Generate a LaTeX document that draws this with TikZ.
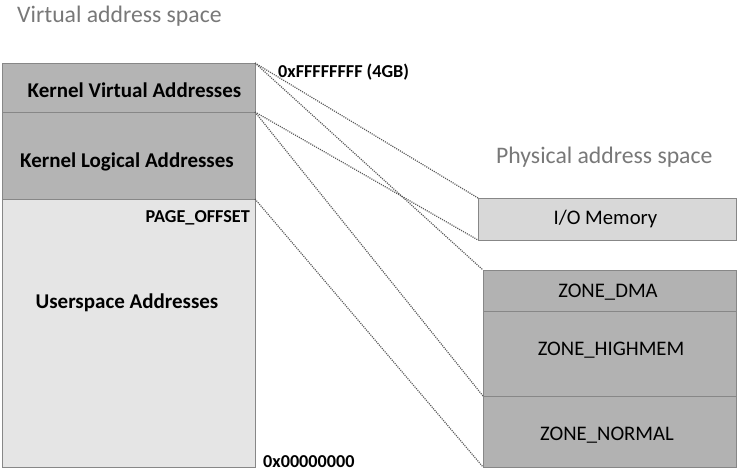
\documentclass[tikz,border=0pt]{standalone}
\usepackage{fontspec}
\setmainfont{Carlito}
\usetikzlibrary{shadows}
\definecolor{kern}{RGB}{180,180,180}
\definecolor{user}{RGB}{229,229,229}
\definecolor{iomem}{RGB}{216,216,216}
\definecolor{zone}{RGB}{178,178,178}
\definecolor{edge}{RGB}{135,135,135}
\definecolor{titlegray}{RGB}{120,120,120}
\definecolor{linegray}{RGB}{90,90,90}
\tikzset{
  box/.style={draw=edge, line width=1pt, inner sep=0pt, outer sep=0pt,
    drop shadow={shadow xshift=1.2pt, shadow yshift=-1.2pt, opacity=0.25}},
  title/.style={anchor=base west, inner sep=0pt, text=titlegray, font=\fontsize{23.7}{26}\selectfont},
  blab/.style={anchor=base, inner sep=0pt, font=\bfseries\fontsize{21}{24}\selectfont},
  addr/.style={anchor=base west, inner sep=0pt, font=\bfseries\fontsize{18.2}{21}\selectfont},
  rlab/.style={anchor=base, inner sep=0pt, font=\fontsize{20.7}{24}\selectfont},
  map/.style={draw=linegray, line width=1.2pt, dash pattern=on 1.1pt off 1.1pt}
}
\begin{document}
\begin{tikzpicture}[x=1pt,y=-1pt]
\useasboundingbox (0,0) rectangle (741,475);
% virtual side
\node[box, fill=user, minimum width=253pt, minimum height=268pt] (us) at (128.5,333) {};
\node[box, fill=kern, minimum width=253pt, minimum height=87pt] (kl) at (128.5,155.5) {};
\node[box, fill=kern, minimum width=253pt, minimum height=49pt] (kv) at (128.5,87.5) {};
% physical side
\node[box, fill=iomem, minimum width=258pt, minimum height=42pt] (io) at (607,219) {};
\node[box, fill=zone, minimum width=253pt, minimum height=71pt] (normal) at (609.5,431.5) {};
\node[box, fill=zone, minimum width=253pt, minimum height=85pt] (high) at (609.5,353.5) {};
\node[box, fill=zone, minimum width=253pt, minimum height=41pt] (dma) at (609.5,290.5) {};
% titles
\node[title] (vtitle) at (17,22) {Virtual address space};
\node[title] (ptitle) at (496,163) {Physical address space};
% box labels
\node[blab] (kvl) at (134.5,97) {Kernel Virtual Addresses};
\node[blab] (kll) at (127,167) {Kernel Logical Addresses};
\node[blab] (usl) at (127,308) {Userspace Addresses};
\node[rlab] (iol) at (605.5,224) {I/O Memory};
\node[rlab] (dmal) at (608,297) {ZONE\_DMA};
\node[rlab] (highl) at (611,355) {ZONE\_HIGHMEM};
\node[rlab] (norml) at (607,440) {ZONE\_NORMAL};
% addresses
\node[addr] (top) at (278,77) {0xFFFFFFFF (4GB)};
\node[addr, anchor=base east] (po) at (250,222) {PAGE\_OFFSET};
\node[addr] (zero) at (263,467) {0x00000000};
% mappings
\draw[map] (kv.north east) -- (io.north west);
\draw[map] (kv.north east) -- (dma.north west);
\draw[map] (kl.north east) -- (io.south west);
\draw[map] (kl.north east) -- (high.south west);
\draw[map] (us.north east) -- (normal.south west);
\end{tikzpicture}
\end{document}
